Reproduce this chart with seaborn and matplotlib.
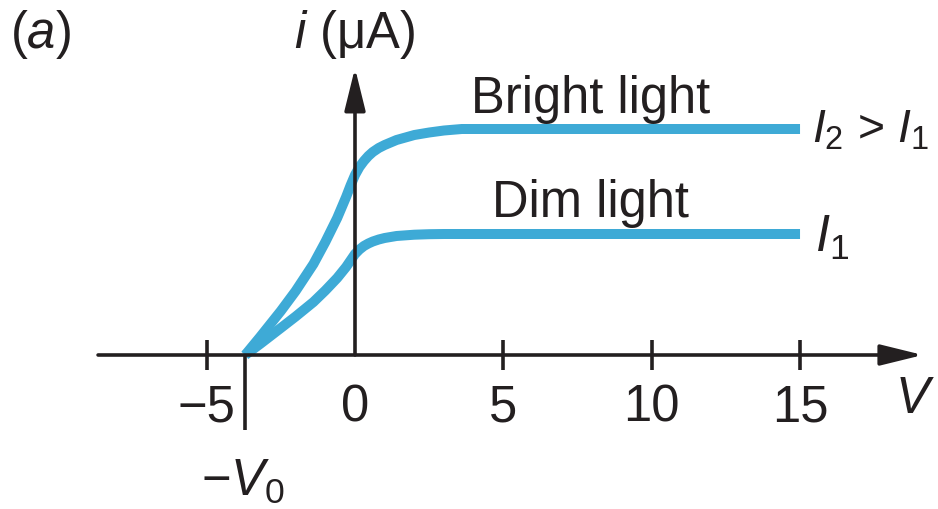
import matplotlib
matplotlib.use("Agg")
import matplotlib.pyplot as plt
import seaborn as sns
import pandas as pd

# ---- data ----
V_pts = [-3.7, -3.2, -2.5, -2.0, -1.4, -1.0, -0.6, -0.3, -0.15, 0.0, 0.15, 0.3,
         0.45, 0.6, 0.8, 1.0, 1.4, 2.0, 2.5, 3.0, 3.6, 5, 10, 15]
i_bright = [0, 0.18, 0.44, 0.64, 0.91, 1.13, 1.37, 1.58, 1.695, 1.80, 1.88, 1.94,
            1.99, 2.03, 2.07, 2.10, 2.15, 2.20, 2.225, 2.245, 2.26, 2.26, 2.26, 2.26]
i_dim = [0, 0.11, 0.27, 0.385, 0.53, 0.645, 0.77, 0.88, 0.945, 1.01, 1.055, 1.09,
         1.115, 1.135, 1.155, 1.17, 1.19, 1.203, 1.208, 1.21, 1.21, 1.21, 1.21, 1.21]
tick_vals = [-5, 5, 10, 15]
tick_labels = ["\u22125", "5", "10", "15"]
V0 = 3.7

sns.set_theme(style="white")
plt.rcParams['font.family'] = ['Liberation Sans', 'DejaVu Sans']
plt.rcParams['mathtext.fontset'] = 'custom'
plt.rcParams['mathtext.rm'] = 'Liberation Sans'
plt.rcParams['mathtext.it'] = 'Liberation Sans:italic'
plt.rcParams['mathtext.bf'] = 'Liberation Sans:bold'

fig = plt.figure(figsize=(9.38, 5.09), dpi=100)
ax = fig.add_axes([0, 0, 1, 1])
ax.set_xlim(-11.965, 19.65)
ax.set_ylim(-1.54, 3.55)
ax.axis('off')

blue = '#3eaad6'
ink = '#231f20'

df = pd.DataFrame({'V': V_pts * 2,
                   'i': i_bright + i_dim,
                   'light': ['Bright'] * len(V_pts) + ['Dim'] * len(V_pts)})
sns.lineplot(data=df, x='V', y='i', units='light', estimator=None, sort=False,
             color=blue, lw=7.2, ax=ax, legend=False, zorder=2)
for ln in ax.get_lines():
    ln.set_solid_capstyle('butt')
    ln.set_solid_joinstyle('round')

# axes
arrow = dict(arrowstyle='-|>,head_length=1.3,head_width=0.32', lw=2.6,
             color=ink, mutation_scale=20, shrinkA=0, shrinkB=0)
ax.annotate('', xy=(19.14, 0), xytext=(-8.66, 0), arrowprops=arrow, zorder=3)
ax.annotate('', xy=(0, 2.87), xytext=(0, 0), arrowprops=arrow, zorder=3)

for t in tick_vals:
    ax.plot([t, t], [-0.15, 0.15], color=ink, lw=2.6, zorder=3, solid_capstyle='butt')
ax.plot([-V0, -V0], [0, -0.75], color=ink, lw=2.6, zorder=3, solid_capstyle='butt')

fs = 36.5
for t, lab in zip(tick_vals, tick_labels):
    if t == -5:
        ax.text(-4.04, -0.67, lab, ha='right', va='baseline', fontsize=fs, color=ink)
    else:
        ax.text(t, -0.67, lab, ha='center', va='baseline', fontsize=fs, color=ink)
ax.text(0, -0.67, "0", ha='center', va='baseline', fontsize=fs, color=ink)

ax.text(18.2, -0.58, r"$V$", ha='left', va='baseline', fontsize=fs, color=ink)
ax.text(-3.77, -1.40, r"$-V_0$", ha='center', va='baseline', fontsize=fs, color=ink)
ax.text(0, 3.07, r"$i$ (μA)", ha='center', va='baseline', fontsize=fs, color=ink)
ax.text(-10.6, 3.07, r"($a$)", ha='center', va='baseline', fontsize=fs, color=ink)
ax.text(7.93, 2.42, "Bright light", ha='center', va='baseline', fontsize=fs, color=ink)
ax.text(7.93, 1.38, "Dim light", ha='center', va='baseline', fontsize=fs, color=ink)
ax.text(15.42, 2.12, r"$I_2$ > $I_1$", ha='left', va='baseline', fontsize=33.5, color=ink)
ax.text(15.5, 1.03, r"$I_1$", ha='left', va='baseline', fontsize=fs, color=ink)

fig.savefig('out.png', dpi=100)
